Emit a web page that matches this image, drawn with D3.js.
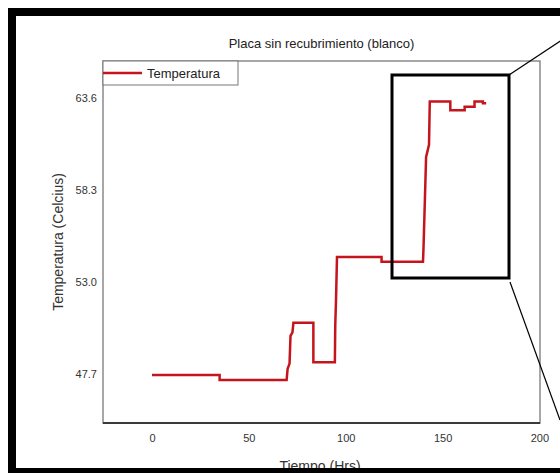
<!DOCTYPE html>
<html>
<head>
<meta charset="utf-8">
<script src="https://cdn.jsdelivr.net/npm/d3@7"></script>
<style>
  body { margin: 0; background: #fff; }
  svg { display: block; font-family: "Liberation Sans", Arial, sans-serif; }
</style>
</head>
<body>
<svg id="chart" width="560" height="473"></svg>
<script>
// data (time in hrs, temperature in C)
var tiempo = [0, 34.9, 34.9, 69.5, 70, 71, 71.5, 72.5, 73, 83.3, 83.3, 94.4, 94.6, 95, 95.5,
  118.5, 118.5, 139.9, 140.2, 141.5, 143, 143.4, 154, 154, 161.4, 161.4, 166.5, 166.5, 170.8, 170.8, 172.5];
var temperatura = [47.65, 47.65, 47.35, 47.35, 48.0, 48.3, 49.9, 50.1, 50.65, 50.65, 48.38, 48.38, 50.5, 52.0, 54.44,
  54.44, 54.17, 54.17, 55.1, 60.2, 60.9, 63.4, 63.4, 62.9, 62.9, 63.1, 63.1, 63.4, 63.4, 63.3, 63.3];
var xTicks = [0, 50, 100, 150, 200];
var yTicks = [47.7, 53.0, 58.3, 63.6];
var titulo = "Placa sin recubrimiento (blanco)";
var serieNombre = "Temperatura";

var svg = d3.select("#chart");
var pLeft = 103, pRight = 540, pTop = 61, pBottom = 423;
var lineColor = "#c4141c";

var x = d3.scaleLinear().domain([-25.3, 200.3]).range([pLeft, pRight]);
var y = d3.scaleLinear().domain([44.88, 65.73]).range([pBottom, pTop]);

svg.append("rect").attr("width", 560).attr("height", 473).attr("fill", "#fff");

// plot frame
svg.append("rect")
  .attr("x", pLeft).attr("y", pTop)
  .attr("width", pRight - pLeft).attr("height", pBottom - pTop)
  .attr("fill", "none").attr("stroke", "#8a8a8a").attr("stroke-width", 1.5);
svg.append("line")
  .attr("x1", pLeft).attr("x2", pRight).attr("y1", pBottom).attr("y2", pBottom)
  .attr("stroke", "#3a3a3a").attr("stroke-width", 2);

// axes (labels only, no tick marks)
var xAxis = d3.axisBottom(x).tickValues(xTicks).tickSize(0).tickPadding(11);
var gx = svg.append("g").attr("transform", "translate(0," + pBottom + ")").call(xAxis);
var yAxis = d3.axisLeft(y).tickValues(yTicks).tickFormat(d3.format(".1f")).tickSize(0).tickPadding(6);
var gy = svg.append("g").attr("transform", "translate(" + pLeft + ",0)").call(yAxis);
[gx, gy].forEach(function(g) {
  g.select(".domain").remove();
  g.selectAll("text").attr("font-size", 11).attr("fill", "#333")
    .attr("font-family", "Liberation Sans, Arial, sans-serif");
});

// data line
var line = d3.line()
  .x(function(d) { return x(d[0]); })
  .y(function(d) { return y(d[1]); });
svg.append("path")
  .datum(d3.zip(tiempo, temperatura))
  .attr("d", line)
  .attr("fill", "none").attr("stroke", lineColor)
  .attr("stroke-width", 2.5).attr("stroke-linejoin", "miter");

// legend
svg.append("rect").attr("x", pLeft).attr("y", 61).attr("width", 135).attr("height", 24)
  .attr("fill", "#fff").attr("stroke", "#777").attr("stroke-width", 1);
svg.append("line").attr("x1", pLeft).attr("x2", pLeft + 39).attr("y1", 73).attr("y2", 73)
  .attr("stroke", lineColor).attr("stroke-width", 2.5);
svg.append("text").attr("x", pLeft + 44).attr("y", 78).attr("font-size", 13).attr("fill", "#222")
  .text(serieNombre);

// title and axis titles
svg.append("text").attr("x", (pLeft + pRight) / 2).attr("y", 48).attr("text-anchor", "middle")
  .attr("font-size", 13).attr("fill", "#222").text(titulo);
svg.append("text").attr("transform", "translate(63," + ((pTop + pBottom) / 2) + ") rotate(-90)")
  .attr("text-anchor", "middle").attr("font-size", 14).attr("fill", "#333")
  .text("Temperatura (Celcius)");
svg.append("text").attr("x", 320).attr("y", 471).attr("text-anchor", "middle")
  .attr("font-size", 14).attr("fill", "#333").text("Tiempo (Hrs)");

// zoom inset box and leader lines
svg.append("rect").attr("x", 392).attr("y", 75).attr("width", 117).attr("height", 203)
  .attr("fill", "none").attr("stroke", "#000").attr("stroke-width", 3);
svg.append("line").attr("x1", 509).attr("y1", 75).attr("x2", 562).attr("y2", 40)
  .attr("stroke", "#000").attr("stroke-width", 1.2);
svg.append("line").attr("x1", 510).attr("y1", 282).attr("x2", 560).attr("y2", 420)
  .attr("stroke", "#000").attr("stroke-width", 1.2);

// outer black frame
svg.append("rect").attr("x", 12).attr("y", 12).attr("width", 620).attr("height", 460)
  .attr("fill", "none").attr("stroke", "#000").attr("stroke-width", 8);
</script>
</body>
</html>
